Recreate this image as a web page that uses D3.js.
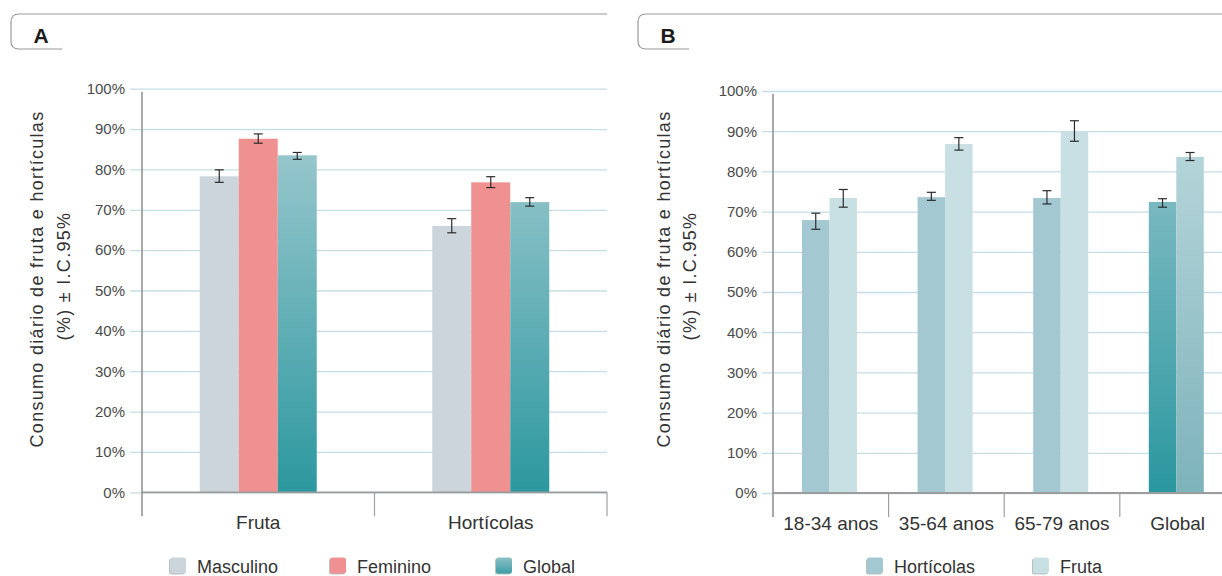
<!DOCTYPE html>
<html>
<head>
<meta charset="utf-8">
<script src="https://cdn.jsdelivr.net/npm/d3@7"></script>
<style>
  html, body { margin: 0; padding: 0; background: #fff; }
  svg { display: block; font-family: "Liberation Sans", Arial, sans-serif; }
</style>
</head>
<body>
<svg id="chart" width="1222" height="576"></svg>
<script>
// ---- Panel A: daily fruit / vegetable consumption by sex ----
const catsA = ["Fruta", "Hortícolas"];
const seriesA = ["Masculino", "Feminino", "Global"];
const masculinoA = [78.3, 66.0];
const masculinoLoA = [76.8, 64.3];
const masculinoHiA = [79.9, 67.8];
const femininoA = [87.6, 76.8];
const femininoLoA = [86.5, 75.5];
const femininoHiA = [88.8, 78.2];
const globalA = [83.5, 71.9];
const globalLoA = [82.5, 70.9];
const globalHiA = [84.2, 73.0];

// ---- Panel B: by age group ----
const catsB = ["18-34 anos", "35-64 anos", "65-79 anos", "Global"];
const seriesB = ["Hortícolas", "Fruta"];
const horticolasB = [67.9, 73.6, 73.4, 72.4];
const horticolasLoB = [65.6, 72.8, 71.9, 71.1];
const horticolasHiB = [69.6, 74.8, 75.2, 73.2];
const frutaB = [73.4, 86.8, 90.0, 83.6];
const frutaLoB = [71.1, 85.3, 87.5, 82.7];
const frutaHiB = [75.5, 88.4, 92.6, 84.7];

// ---- shared y axis ----
const tickValues = [0, 10, 20, 30, 40, 50, 60, 70, 80, 90, 100];
const tickLabels = ["0%", "10%", "20%", "30%", "40%", "50%", "60%", "70%", "80%", "90%", "100%"];
const yTitle1 = "Consumo diário de fruta e hortículas";
const yTitle2 = "(%) ± I.C.95%";

const svg = d3.select("#chart");
const defs = svg.append("defs");

function vGrad(id, top, bottom, y1, y2, units) {
  const g = defs.append("linearGradient").attr("id", id)
    .attr("x1", 0).attr("x2", 0).attr("y1", y1).attr("y2", y2);
  if (units) g.attr("gradientUnits", units);
  g.append("stop").attr("offset", "0%").attr("stop-color", top);
  g.append("stop").attr("offset", "100%").attr("stop-color", bottom);
}

function tabBox(x0, xEnd, xBottomEnd, letter) {
  const top = 14, bottom = 49, r = 8;
  svg.append("path")
    .attr("d", `M${xEnd},${top} H${x0 + r} Q${x0},${top} ${x0},${top + r} V${bottom - r} Q${x0},${bottom} ${x0 + r},${bottom} H${xBottomEnd}`)
    .attr("fill", "none").attr("stroke", "#9a9a9a").attr("stroke-width", 1.2);
  svg.append("text").attr("x", x0 + 30).attr("y", 42.5)
    .attr("text-anchor", "middle").attr("font-size", 21).attr("font-weight", "bold")
    .attr("fill", "#1a1a1a").text(letter);
}

function drawPanel(p) {
  const g = svg.append("g");
  const y = d3.scaleLinear().domain([0, 100]).range([p.y0, p.y100]);
  const x = d3.scaleBand().domain(p.cats).range([p.axisX, p.axisX + p.bandW * p.cats.length]);
  const inner = d3.scaleBand().domain(p.series).range([0, p.groupW]);
  const off = (p.bandW - p.groupW) / 2 + (p.groupShift || 0);

  // gridlines + tick labels
  const yAxis = d3.axisLeft(y).tickValues(tickValues)
    .tickFormat((d, i) => tickLabels[i])
    .tickSize(-(p.gridEnd - p.gridStart)).tickPadding(5);
  const ga = g.append("g").attr("transform", `translate(${p.gridStart},0)`).call(yAxis);
  ga.select(".domain").remove();
  ga.selectAll(".tick line").attr("stroke", "#c6dde5").attr("stroke-width", 1.3);
  ga.selectAll(".tick text").attr("font-size", 15).attr("fill", "#4a4a4a")
    .attr("font-family", "'Liberation Sans', Arial, sans-serif");

  // bars
  p.series.forEach((s, si) => {
    const vals = p.values[si], lo = p.lo[si], hi = p.hi[si];
    const bg = g.append("g");
    bg.selectAll("rect").data(p.cats).join("rect")
      .attr("x", d => x(d) + off + inner(s))
      .attr("width", inner.bandwidth())
      .attr("y", (d, i) => y(vals[i]))
      .attr("height", (d, i) => y(0) - y(vals[i]))
      .attr("fill", d => p.fill(s, d));
    // error bars
    const eg = g.append("g").attr("stroke", "#2b2b2b").attr("stroke-width", 1.2);
    p.cats.forEach((c, i) => {
      const cx = x(c) + off + inner(s) + inner.bandwidth() / 2;
      eg.append("line").attr("x1", cx).attr("x2", cx).attr("y1", y(lo[i])).attr("y2", y(hi[i]));
      eg.append("line").attr("x1", cx - 4.5).attr("x2", cx + 4.5).attr("y1", y(lo[i])).attr("y2", y(lo[i]));
      eg.append("line").attr("x1", cx - 4.5).attr("x2", cx + 4.5).attr("y1", y(hi[i])).attr("y2", y(hi[i]));
    });
  });

  // axis lines
  g.append("line").attr("x1", p.axisX).attr("x2", p.gridEnd)
    .attr("y1", y(0)).attr("y2", y(0)).attr("stroke", "#9c9c9c").attr("stroke-width", 1.8);
  g.append("line").attr("x1", p.axisX).attr("x2", p.axisX)
    .attr("y1", p.y100 + 3).attr("y2", p.y0 + 24).attr("stroke", "#8c8c8c").attr("stroke-width", 1.5);
  // category separators
  const edges = p.cats.map(c => x(c)).concat([x.range()[1]]).slice(1);
  g.selectAll(".sep").data(edges).join("line")
    .attr("x1", d => d).attr("x2", d => d)
    .attr("y1", y(0)).attr("y2", y(0) + 24)
    .attr("stroke", "#a0a0a0").attr("stroke-width", 1.2);

  // category labels
  const xAxis = d3.axisBottom(x).tickSize(0).tickPadding(0);
  const gx = g.append("g").attr("transform", `translate(0,${p.labelBase})`).call(xAxis);
  gx.select(".domain").remove();
  gx.selectAll(".tick text").attr("dy", 0).attr("y", 0)
    .attr("font-size", 19).attr("fill", "#333")
    .attr("font-family", "'Liberation Sans', Arial, sans-serif");

  // y title
  const tg = g.append("g").attr("font-size", 18).attr("fill", "#333")
    .attr("letter-spacing", 1.3).attr("text-anchor", "middle");
  tg.append("text").attr("transform", `translate(${p.title1X},279) rotate(-90)`).text(yTitle1);
  tg.append("text").attr("transform", `translate(${p.title2X},276) rotate(-90)`).text(yTitle2);

  // legend
  const lg = g.append("g");
  p.series.forEach((s, i) => {
    const lx = p.legendX[i];
    lg.append("rect").attr("x", lx - 1).attr("y", 558.5).attr("width", 16).attr("height", 16)
      .attr("rx", 2.5).attr("fill", "#7d8a90").attr("opacity", 0.55);
    lg.append("rect").attr("x", lx).attr("y", 557.5).attr("width", 16).attr("height", 16)
      .attr("rx", 2.5).attr("fill", p.legendFill(s));
    lg.append("text").attr("x", lx + 27).attr("y", 573).attr("font-size", 18)
      .attr("fill", "#333").text(s);
  });
}

// gradients
vGrad("gA", "#aacfd4", "#2c989f", 88.7, 492.3, "userSpaceOnUse");
vGrad("gBh", "#98c5cc", "#2a979f", 91, 493, "userSpaceOnUse");
vGrad("gBf", "#bedbdf", "#7db3ba", 91, 493, "userSpaceOnUse");
vGrad("gLegA", "#8fc0c6", "#3a9ea6", 0, 1);

const fillsA = { "Masculino": "#cdd5dc", "Feminino": "#ef9190", "Global": "url(#gA)" };
const fillsB = { "Hortícolas": "#a3c8d1", "Fruta": "#c8dfe4" };
const globalFillsB = { "Hortícolas": "url(#gBh)", "Fruta": "url(#gBf)" };

tabBox(11, 607, 62, "A");
tabBox(638, 1222, 689, "B");

drawPanel({
  cats: catsA, series: seriesA,
  values: [masculinoA, femininoA, globalA],
  lo: [masculinoLoA, femininoLoA, globalLoA],
  hi: [masculinoHiA, femininoHiA, globalHiA],
  y0: 492.3, y100: 88.7,
  axisX: 142, bandW: 232.5, groupW: 117,
  gridStart: 130, gridEnd: 607,
  labelBase: 529,
  title1X: 43, title2X: 70,
  legendX: [170, 330, 496],
  fill: (s, c) => fillsA[s],
  legendFill: s => s === "Global" ? "url(#gLegA)" : fillsA[s]
});

drawPanel({
  cats: catsB, series: seriesB,
  values: [horticolasB, frutaB],
  lo: [horticolasLoB, frutaLoB],
  hi: [horticolasHiB, frutaHiB],
  y0: 493, y100: 91,
  axisX: 773, bandW: 115.6, groupW: 55, groupShift: -1.3,
  gridStart: 762, gridEnd: 1222,
  labelBase: 530,
  title1X: 670, title2X: 696,
  legendX: [867, 1033],
  fill: (s, c) => c === "Global" ? globalFillsB[s] : fillsB[s],
  legendFill: s => fillsB[s]
});
</script>
</body>
</html>
